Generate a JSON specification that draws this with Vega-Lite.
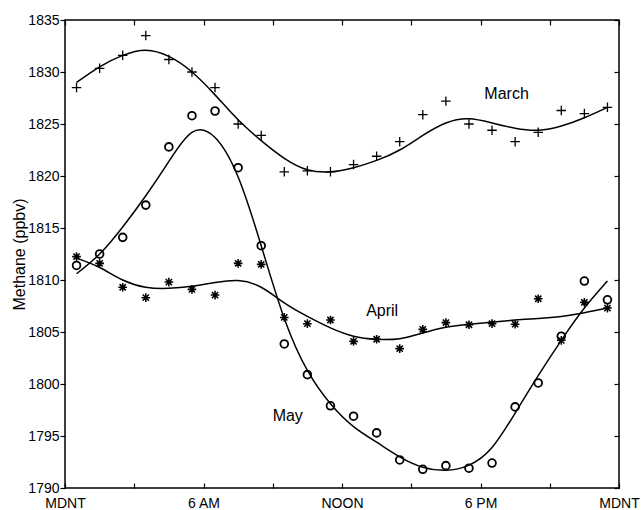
{
  "$schema": "https://vega.github.io/schema/vega-lite/v6.json",
  "width": 554,
  "height": 468,
  "autosize": {"type": "none"},
  "padding": {"left": 65, "top": 20, "right": 22, "bottom": 22},
  "background": "white",
  "config": {
    "font": "Liberation Sans",
    "view": {"stroke": "black", "strokeWidth": 1.5},
    "axis": {
      "grid": false,
      "domain": false,
      "labelFont": "Liberation Sans",
      "labelFontSize": 14,
      "labelColor": "black",
      "tickColor": "black",
      "tickWidth": 1.2,
      "titleFont": "Liberation Sans",
      "titleFontSize": 16,
      "titleFontWeight": "normal",
      "titleColor": "black",
      "labelFlush": false,
      "labelOverlap": false
    }
  },
  "datasets": {
    "points": [
      {"month": "March", "hour": 0.5, "value": 1828.5},
      {"month": "March", "hour": 1.5, "value": 1830.35},
      {"month": "March", "hour": 2.5, "value": 1831.6},
      {"month": "March", "hour": 3.5, "value": 1833.5},
      {"month": "March", "hour": 4.5, "value": 1831.2},
      {"month": "March", "hour": 5.5, "value": 1830.0},
      {"month": "March", "hour": 6.5, "value": 1828.5},
      {"month": "March", "hour": 7.5, "value": 1825.0},
      {"month": "March", "hour": 8.5, "value": 1823.9},
      {"month": "March", "hour": 9.5, "value": 1820.4},
      {"month": "March", "hour": 10.5, "value": 1820.5},
      {"month": "March", "hour": 11.5, "value": 1820.4},
      {"month": "March", "hour": 12.5, "value": 1821.1},
      {"month": "March", "hour": 13.5, "value": 1821.9},
      {"month": "March", "hour": 14.5, "value": 1823.3},
      {"month": "March", "hour": 15.5, "value": 1825.9},
      {"month": "March", "hour": 16.5, "value": 1827.2},
      {"month": "March", "hour": 17.5, "value": 1825.0},
      {"month": "March", "hour": 18.5, "value": 1824.4},
      {"month": "March", "hour": 19.5, "value": 1823.3},
      {"month": "March", "hour": 20.5, "value": 1824.2},
      {"month": "March", "hour": 21.5, "value": 1826.3},
      {"month": "March", "hour": 22.5, "value": 1826.0},
      {"month": "March", "hour": 23.5, "value": 1826.6},
      {"month": "April", "hour": 0.5, "value": 1812.25},
      {"month": "April", "hour": 1.5, "value": 1811.6},
      {"month": "April", "hour": 2.5, "value": 1809.3},
      {"month": "April", "hour": 3.5, "value": 1808.3},
      {"month": "April", "hour": 4.5, "value": 1809.8},
      {"month": "April", "hour": 5.5, "value": 1809.1},
      {"month": "April", "hour": 6.5, "value": 1808.55},
      {"month": "April", "hour": 7.5, "value": 1811.6},
      {"month": "April", "hour": 8.5, "value": 1811.5},
      {"month": "April", "hour": 9.5, "value": 1806.4},
      {"month": "April", "hour": 10.5, "value": 1805.8},
      {"month": "April", "hour": 11.5, "value": 1806.15},
      {"month": "April", "hour": 12.5, "value": 1804.1},
      {"month": "April", "hour": 13.5, "value": 1804.3},
      {"month": "April", "hour": 14.5, "value": 1803.4},
      {"month": "April", "hour": 15.5, "value": 1805.25},
      {"month": "April", "hour": 16.5, "value": 1805.9},
      {"month": "April", "hour": 17.5, "value": 1805.7},
      {"month": "April", "hour": 18.5, "value": 1805.8},
      {"month": "April", "hour": 19.5, "value": 1805.75},
      {"month": "April", "hour": 20.5, "value": 1808.2},
      {"month": "April", "hour": 21.5, "value": 1804.2},
      {"month": "April", "hour": 22.5, "value": 1807.85},
      {"month": "April", "hour": 23.5, "value": 1807.3},
      {"month": "May", "hour": 0.5, "value": 1811.4},
      {"month": "May", "hour": 1.5, "value": 1812.5},
      {"month": "May", "hour": 2.5, "value": 1814.1},
      {"month": "May", "hour": 3.5, "value": 1817.2},
      {"month": "May", "hour": 4.5, "value": 1822.8},
      {"month": "May", "hour": 5.5, "value": 1825.8},
      {"month": "May", "hour": 6.5, "value": 1826.25},
      {"month": "May", "hour": 7.5, "value": 1820.8},
      {"month": "May", "hour": 8.5, "value": 1813.3},
      {"month": "May", "hour": 9.5, "value": 1803.85},
      {"month": "May", "hour": 10.5, "value": 1800.9},
      {"month": "May", "hour": 11.5, "value": 1797.9},
      {"month": "May", "hour": 12.5, "value": 1796.9},
      {"month": "May", "hour": 13.5, "value": 1795.3},
      {"month": "May", "hour": 14.5, "value": 1792.7},
      {"month": "May", "hour": 15.5, "value": 1791.8},
      {"month": "May", "hour": 16.5, "value": 1792.15},
      {"month": "May", "hour": 17.5, "value": 1791.9},
      {"month": "May", "hour": 18.5, "value": 1792.4},
      {"month": "May", "hour": 19.5, "value": 1797.8},
      {"month": "May", "hour": 20.5, "value": 1800.1},
      {"month": "May", "hour": 21.5, "value": 1804.6},
      {"month": "May", "hour": 22.5, "value": 1809.9},
      {"month": "May", "hour": 23.5, "value": 1808.1}
    ],
    "curves": [
      {"month": "March", "hour": 0.5, "value": 1829.0},
      {"month": "March", "hour": 1.5, "value": 1830.5},
      {"month": "March", "hour": 2.5, "value": 1831.6},
      {"month": "March", "hour": 3.5, "value": 1832.1},
      {"month": "March", "hour": 4.5, "value": 1831.5},
      {"month": "March", "hour": 5.5, "value": 1830.0},
      {"month": "March", "hour": 6.5, "value": 1827.8},
      {"month": "March", "hour": 7.5, "value": 1825.4},
      {"month": "March", "hour": 8.5, "value": 1823.4},
      {"month": "March", "hour": 9.5, "value": 1821.7},
      {"month": "March", "hour": 10.5, "value": 1820.6},
      {"month": "March", "hour": 11.5, "value": 1820.4},
      {"month": "March", "hour": 12.5, "value": 1820.8},
      {"month": "March", "hour": 13.5, "value": 1821.5},
      {"month": "March", "hour": 14.5, "value": 1822.5},
      {"month": "March", "hour": 15.5, "value": 1823.9},
      {"month": "March", "hour": 16.5, "value": 1825.1},
      {"month": "March", "hour": 17.5, "value": 1825.5},
      {"month": "March", "hour": 18.5, "value": 1825.1},
      {"month": "March", "hour": 19.5, "value": 1824.6},
      {"month": "March", "hour": 20.5, "value": 1824.4},
      {"month": "March", "hour": 21.5, "value": 1824.8},
      {"month": "March", "hour": 22.5, "value": 1825.6},
      {"month": "March", "hour": 23.5, "value": 1826.6},
      {"month": "April", "hour": 0.5, "value": 1812.1},
      {"month": "April", "hour": 1.5, "value": 1811.2},
      {"month": "April", "hour": 2.5, "value": 1810.0},
      {"month": "April", "hour": 3.5, "value": 1809.3},
      {"month": "April", "hour": 4.5, "value": 1809.2},
      {"month": "April", "hour": 5.5, "value": 1809.4},
      {"month": "April", "hour": 6.5, "value": 1809.75},
      {"month": "April", "hour": 7.5, "value": 1809.95},
      {"month": "April", "hour": 8.5, "value": 1809.3},
      {"month": "April", "hour": 9.5, "value": 1807.8},
      {"month": "April", "hour": 10.5, "value": 1806.5},
      {"month": "April", "hour": 11.5, "value": 1805.4},
      {"month": "April", "hour": 12.5, "value": 1804.6},
      {"month": "April", "hour": 13.5, "value": 1804.3},
      {"month": "April", "hour": 14.5, "value": 1804.35},
      {"month": "April", "hour": 15.5, "value": 1804.9},
      {"month": "April", "hour": 16.5, "value": 1805.45},
      {"month": "April", "hour": 17.5, "value": 1805.75},
      {"month": "April", "hour": 18.5, "value": 1805.95},
      {"month": "April", "hour": 19.5, "value": 1806.15},
      {"month": "April", "hour": 20.5, "value": 1806.3},
      {"month": "April", "hour": 21.5, "value": 1806.5},
      {"month": "April", "hour": 22.5, "value": 1806.85},
      {"month": "April", "hour": 23.5, "value": 1807.3},
      {"month": "May", "hour": 0.5, "value": 1810.6},
      {"month": "May", "hour": 1.5, "value": 1812.5},
      {"month": "May", "hour": 2.5, "value": 1815.1},
      {"month": "May", "hour": 3.5, "value": 1818.1},
      {"month": "May", "hour": 4.5, "value": 1821.4},
      {"month": "May", "hour": 5.5, "value": 1824.2},
      {"month": "May", "hour": 6.5, "value": 1823.7},
      {"month": "May", "hour": 7.5, "value": 1819.9},
      {"month": "May", "hour": 8.5, "value": 1813.3},
      {"month": "May", "hour": 9.5, "value": 1806.3},
      {"month": "May", "hour": 10.5, "value": 1801.3},
      {"month": "May", "hour": 11.5, "value": 1798.1},
      {"month": "May", "hour": 12.5, "value": 1795.9},
      {"month": "May", "hour": 13.5, "value": 1794.4},
      {"month": "May", "hour": 14.5, "value": 1793.0},
      {"month": "May", "hour": 15.5, "value": 1792.0},
      {"month": "May", "hour": 16.5, "value": 1791.7},
      {"month": "May", "hour": 17.5, "value": 1792.2},
      {"month": "May", "hour": 18.5, "value": 1793.9},
      {"month": "May", "hour": 19.5, "value": 1797.2},
      {"month": "May", "hour": 20.5, "value": 1800.8},
      {"month": "May", "hour": 21.5, "value": 1804.2},
      {"month": "May", "hour": 22.5, "value": 1807.3},
      {"month": "May", "hour": 23.5, "value": 1809.9}
    ],
    "labels": [
      {"label": "March", "hour": 19.13, "value": 1827.9},
      {"label": "April", "hour": 13.74, "value": 1807.0},
      {"label": "May", "hour": 9.65, "value": 1796.9}
    ]
  },
  "resolve": {"axis": {"x": "independent", "y": "independent"}},
  "layer": [
    {
      "data": {"name": "curves"},
      "mark": {"type": "line", "interpolate": "natural", "color": "black", "strokeWidth": 1.5},
      "encoding": {
        "x": {
          "field": "hour", "type": "quantitative",
          "scale": {"domain": [0, 24], "nice": false, "zero": false},
          "axis": {
            "orient": "bottom", "title": null,
            "values": [0, 3, 6, 9, 12, 15, 18, 21, 24],
            "tickSize": -5, "labelPadding": 13,
            "labelExpr": "datum.value == 0 || datum.value == 24 ? 'MDNT' : datum.value == 6 ? '6 AM' : datum.value == 12 ? 'NOON' : datum.value == 18 ? '6 PM' : ''"
          }
        },
        "y": {
          "field": "value", "type": "quantitative",
          "scale": {"domain": [1790, 1835], "nice": false, "zero": false},
          "axis": {
            "orient": "left", "title": "Methane (ppbv)", "format": "d",
            "values": [1790, 1795, 1800, 1805, 1810, 1815, 1820, 1825, 1830, 1835],
            "tickSize": 5, "labelPadding": 1, "titlePadding": 0
          }
        },
        "detail": {"field": "month"}
      }
    },
    {
      "data": {"name": "points"},
      "mark": {"type": "point", "filled": false, "color": "black", "opacity": 1},
      "encoding": {
        "x": {"field": "hour", "type": "quantitative", "axis": null},
        "y": {"field": "value", "type": "quantitative", "axis": null},
        "shape": {
          "field": "month", "type": "nominal", "legend": null,
          "scale": {
            "domain": ["March", "April", "May"],
            "range": [
              "M-1,0L1,0M0,-1L0,1",
              "M-1,0L1,0M0,-1L0,1M-0.72,-0.72L0.72,0.72M-0.72,0.72L0.72,-0.72",
              "circle"
            ]
          }
        },
        "size": {
          "field": "month", "type": "nominal", "legend": null,
          "scale": {"domain": ["March", "April", "May"], "range": [90, 60, 72]}
        },
        "strokeWidth": {
          "field": "month", "type": "nominal", "legend": null,
          "scale": {"domain": ["March", "April", "May"], "range": [1.3, 1.8, 1.1]}
        }
      }
    },
    {
      "data": {"name": "labels"},
      "mark": {"type": "text", "font": "Liberation Sans", "fontSize": 16, "color": "black", "align": "center", "baseline": "middle"},
      "encoding": {
        "x": {
          "field": "hour", "type": "quantitative",
          "axis": {"orient": "top", "title": null, "labels": false, "values": [0, 3, 6, 9, 12, 15, 18, 21, 24], "tickSize": -5}
        },
        "y": {
          "field": "value", "type": "quantitative",
          "axis": {"orient": "right", "title": null, "labels": false, "values": [1790, 1795, 1800, 1805, 1810, 1815, 1820, 1825, 1830, 1835], "tickSize": -5}
        },
        "text": {"field": "label"}
      }
    }
  ]
}
